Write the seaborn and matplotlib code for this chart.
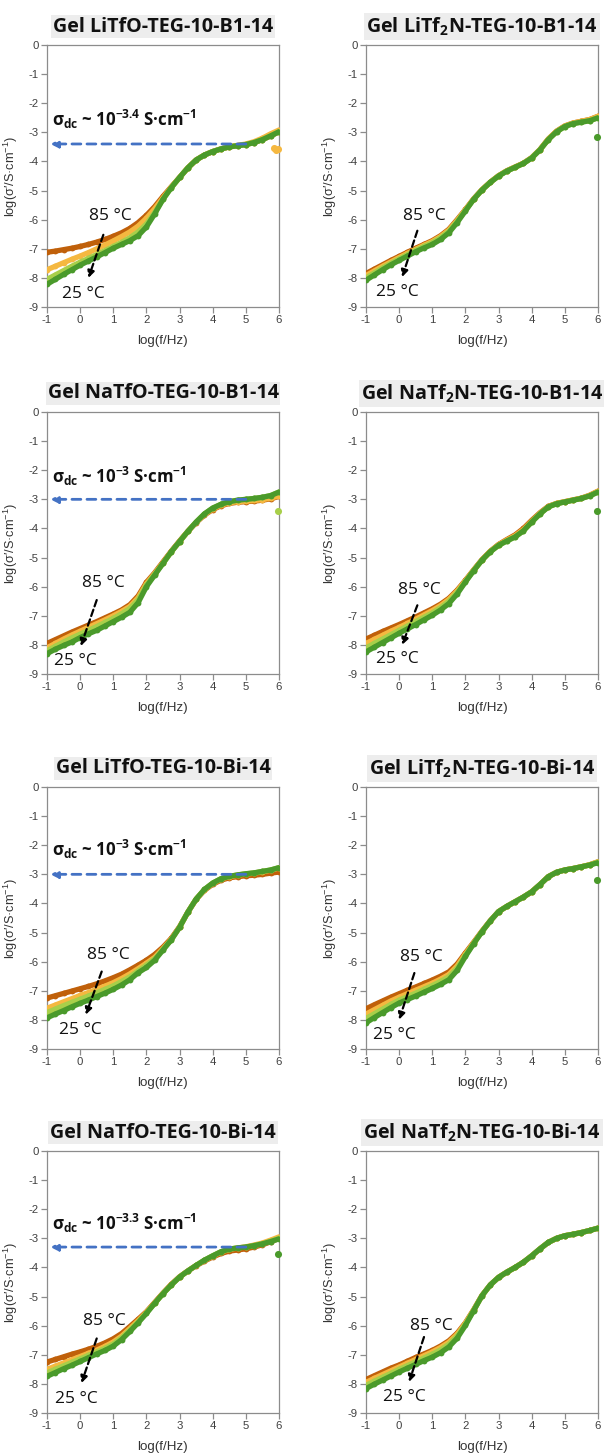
import matplotlib
matplotlib.use("Agg")
import matplotlib.pyplot as plt
import seaborn as sns
import pandas as pd

# ---------------- data ----------------
X_GRID = [-1.0, -0.75, -0.5, -0.25, 0.0, 0.25, 0.5, 0.75, 1.0, 1.25, 1.5, 1.75, 2.0, 2.25,
          2.5, 2.75, 3.0, 3.25, 3.5, 3.75, 4.0, 4.25, 4.5, 4.75, 5.0, 5.25, 5.5, 5.75, 6.0]
TEMPS = ["85 °C", "65 °C", "45 °C", "25 °C"]
COLORS = ["#C0600A", "#F5B840", "#A8CF4A", "#4A9A2B"]

TITLES = ["Gel LiTfO-TEG-10-B1-14", "Gel LiTf$_2$N-TEG-10-B1-14",
          "Gel NaTfO-TEG-10-B1-14", "Gel NaTf$_2$N-TEG-10-B1-14",
          "Gel LiTfO-TEG-10-Bi-14", "Gel LiTf$_2$N-TEG-10-Bi-14",
          "Gel NaTfO-TEG-10-Bi-14", "Gel NaTf$_2$N-TEG-10-Bi-14"]

# panel 1: LiTfO-B1
P1_85 = [-7.12, -7.08, -7.03, -6.98, -6.92, -6.85, -6.77, -6.68, -6.57, -6.45, -6.30, -6.10, -5.85, -5.55,
         -5.20, -4.87, -4.55, -4.22, -3.95, -3.78, -3.66, -3.57, -3.50, -3.46, -3.42, -3.35, -3.25, -3.12, -2.98]
P1_65 = [-7.72, -7.60, -7.48, -7.36, -7.25, -7.13, -7.00, -6.87, -6.73, -6.58, -6.42, -6.22, -5.95, -5.62,
         -5.25, -4.88, -4.55, -4.22, -3.95, -3.78, -3.66, -3.57, -3.50, -3.45, -3.40, -3.32, -3.20, -3.05, -2.92]
P1_45 = [-8.05, -7.90, -7.75, -7.60, -7.46, -7.33, -7.20, -7.06, -6.92, -6.78, -6.62, -6.42, -6.15, -5.75,
         -5.30, -4.90, -4.55, -4.22, -3.95, -3.78, -3.66, -3.57, -3.50, -3.46, -3.42, -3.35, -3.25, -3.12, -2.98]
P1_25 = [-8.22, -8.05, -7.88, -7.72, -7.56, -7.42, -7.28, -7.13, -6.98, -6.85, -6.72, -6.55, -6.25, -5.80,
         -5.30, -4.90, -4.55, -4.22, -3.95, -3.78, -3.66, -3.57, -3.50, -3.46, -3.42, -3.35, -3.25, -3.12, -2.98]

# panel 2: LiTf2N-B1
P2_85 = [-7.85, -7.70, -7.55, -7.40, -7.26, -7.12, -6.98, -6.85, -6.72, -6.55, -6.33, -6.00, -5.65, -5.28,
         -4.97, -4.71, -4.49, -4.32, -4.19, -4.06, -3.87, -3.59, -3.23, -2.96, -2.78, -2.68, -2.62, -2.56, -2.45]
P2_65 = [-7.92, -7.76, -7.60, -7.45, -7.30, -7.16, -7.02, -6.88, -6.75, -6.58, -6.36, -6.03, -5.66, -5.29,
         -4.97, -4.71, -4.49, -4.32, -4.19, -4.06, -3.87, -3.59, -3.23, -2.96, -2.78, -2.68, -2.62, -2.56, -2.45]
P2_45 = [-8.00, -7.83, -7.66, -7.50, -7.35, -7.20, -7.05, -6.92, -6.79, -6.62, -6.40, -6.06, -5.68, -5.30,
         -4.98, -4.72, -4.50, -4.33, -4.20, -4.07, -3.88, -3.60, -3.25, -2.98, -2.80, -2.70, -2.65, -2.60, -2.50]
P2_25 = [-8.08, -7.90, -7.72, -7.55, -7.40, -7.25, -7.10, -6.97, -6.85, -6.68, -6.45, -6.10, -5.70, -5.30,
         -4.98, -4.72, -4.50, -4.33, -4.20, -4.07, -3.88, -3.60, -3.25, -2.98, -2.80, -2.70, -2.65, -2.60, -2.50]

# panel 3: NaTfO-B1
P3_85 = [-7.95, -7.82, -7.69, -7.56, -7.44, -7.32, -7.20, -7.07, -6.94, -6.80, -6.62, -6.32, -5.85, -5.52,
         -5.15, -4.78, -4.43, -4.10, -3.80, -3.54, -3.35, -3.22, -3.14, -3.10, -3.08, -3.06, -3.03, -2.98, -2.90]
P3_65 = [-8.10, -7.95, -7.80, -7.66, -7.53, -7.40, -7.27, -7.14, -7.00, -6.85, -6.68, -6.38, -5.90, -5.55,
         -5.18, -4.80, -4.45, -4.10, -3.79, -3.52, -3.33, -3.20, -3.12, -3.08, -3.06, -3.04, -3.01, -2.96, -2.88]
P3_45 = [-8.20, -8.05, -7.90, -7.76, -7.63, -7.50, -7.37, -7.23, -7.09, -6.93, -6.75, -6.45, -5.95, -5.57,
         -5.20, -4.80, -4.45, -4.10, -3.78, -3.50, -3.30, -3.17, -3.08, -3.03, -3.00, -2.97, -2.93, -2.87, -2.75]
P3_25 = [-8.30, -8.15, -8.02, -7.90, -7.75, -7.62, -7.50, -7.35, -7.20, -7.05, -6.88, -6.55, -6.00, -5.60,
         -5.20, -4.80, -4.45, -4.10, -3.78, -3.50, -3.30, -3.17, -3.08, -3.03, -3.00, -2.97, -2.93, -2.87, -2.75]

# panel 4: NaTf2N-B1
P4_85 = [-7.80, -7.67, -7.54, -7.42, -7.30, -7.17, -7.04, -6.90, -6.76, -6.60, -6.40, -6.12, -5.78, -5.42,
         -5.07, -4.78, -4.55, -4.38, -4.22, -4.00, -3.72, -3.46, -3.24, -3.14, -3.08, -3.02, -2.96, -2.86, -2.72]
P4_65 = [-7.95, -7.81, -7.67, -7.53, -7.40, -7.26, -7.12, -6.97, -6.82, -6.65, -6.44, -6.15, -5.80, -5.43,
         -5.08, -4.79, -4.56, -4.40, -4.25, -4.04, -3.75, -3.48, -3.25, -3.14, -3.08, -3.02, -2.96, -2.86, -2.72]
P4_45 = [-8.10, -7.95, -7.80, -7.65, -7.50, -7.35, -7.20, -7.05, -6.90, -6.72, -6.50, -6.20, -5.82, -5.44,
         -5.09, -4.80, -4.58, -4.43, -4.29, -4.08, -3.78, -3.50, -3.26, -3.15, -3.09, -3.03, -2.97, -2.88, -2.75]
P4_25 = [-8.24, -8.08, -7.92, -7.76, -7.60, -7.45, -7.30, -7.14, -6.98, -6.80, -6.58, -6.25, -5.84, -5.45,
         -5.09, -4.80, -4.58, -4.43, -4.29, -4.08, -3.78, -3.50, -3.26, -3.15, -3.09, -3.03, -2.97, -2.88, -2.75]

# panel 5: LiTfO-Bi
P5_85 = [-7.25, -7.17, -7.09, -7.01, -6.93, -6.85, -6.76, -6.66, -6.55, -6.43, -6.28, -6.12, -5.95, -5.75,
         -5.50, -5.20, -4.80, -4.30, -3.86, -3.55, -3.34, -3.20, -3.12, -3.08, -3.05, -3.03, -3.00, -2.96, -2.92]
P5_65 = [-7.60, -7.49, -7.38, -7.27, -7.16, -7.06, -6.95, -6.84, -6.72, -6.58, -6.42, -6.24, -6.05, -5.85,
         -5.55, -5.23, -4.81, -4.30, -3.85, -3.53, -3.31, -3.16, -3.08, -3.03, -2.99, -2.96, -2.91, -2.86, -2.78]
P5_45 = [-7.75, -7.63, -7.51, -7.40, -7.29, -7.18, -7.07, -6.95, -6.83, -6.68, -6.52, -6.32, -6.12, -5.90,
         -5.58, -5.25, -4.82, -4.30, -3.85, -3.52, -3.30, -3.15, -3.07, -3.02, -2.98, -2.95, -2.90, -2.85, -2.77]
P5_25 = [-7.93, -7.80, -7.68, -7.55, -7.43, -7.32, -7.20, -7.08, -6.95, -6.80, -6.62, -6.38, -6.20, -5.95,
         -5.60, -5.25, -4.82, -4.30, -3.85, -3.52, -3.30, -3.15, -3.07, -3.02, -2.98, -2.95, -2.90, -2.85, -2.77]

# panel 6: LiTf2N-Bi
P6_85 = [-7.62, -7.48, -7.35, -7.22, -7.10, -6.98, -6.87, -6.75, -6.63, -6.50, -6.35, -6.08, -5.70, -5.33,
         -4.95, -4.59, -4.28, -4.10, -3.94, -3.78, -3.60, -3.35, -3.08, -2.93, -2.85, -2.80, -2.74, -2.67, -2.57]
P6_65 = [-7.80, -7.65, -7.50, -7.35, -7.22, -7.10, -6.98, -6.86, -6.74, -6.60, -6.44, -6.15, -5.74, -5.35,
         -4.96, -4.60, -4.28, -4.10, -3.94, -3.78, -3.60, -3.35, -3.08, -2.93, -2.85, -2.80, -2.74, -2.67, -2.57]
P6_45 = [-7.95, -7.79, -7.63, -7.47, -7.32, -7.20, -7.08, -6.95, -6.82, -6.68, -6.52, -6.22, -5.78, -5.37,
         -4.97, -4.60, -4.28, -4.10, -3.94, -3.78, -3.60, -3.35, -3.08, -2.93, -2.85, -2.80, -2.74, -2.68, -2.58]
P6_25 = [-8.10, -7.92, -7.75, -7.58, -7.42, -7.30, -7.18, -7.05, -6.92, -6.78, -6.62, -6.30, -5.82, -5.38,
         -4.97, -4.60, -4.28, -4.10, -3.94, -3.78, -3.60, -3.35, -3.08, -2.93, -2.85, -2.80, -2.74, -2.68, -2.60]

# panel 7: NaTfO-Bi
P7_85 = [-7.25, -7.16, -7.07, -6.98, -6.90, -6.81, -6.71, -6.59, -6.45, -6.27, -6.03, -5.78, -5.52, -5.20,
         -4.88, -4.58, -4.32, -4.12, -3.94, -3.78, -3.64, -3.52, -3.44, -3.40, -3.36, -3.30, -3.22, -3.12, -3.00]
P7_65 = [-7.50, -7.39, -7.28, -7.17, -7.06, -6.95, -6.84, -6.71, -6.56, -6.36, -6.10, -5.83, -5.54, -5.22,
         -4.89, -4.59, -4.33, -4.12, -3.93, -3.76, -3.61, -3.47, -3.38, -3.33, -3.29, -3.23, -3.16, -3.06, -2.95]
P7_45 = [-7.62, -7.50, -7.38, -7.26, -7.14, -7.02, -6.90, -6.78, -6.63, -6.42, -6.15, -5.87, -5.56, -5.23,
         -4.90, -4.60, -4.33, -4.12, -3.93, -3.75, -3.60, -3.46, -3.37, -3.33, -3.30, -3.25, -3.19, -3.10, -3.00]
P7_25 = [-7.74, -7.61, -7.48, -7.36, -7.23, -7.10, -6.97, -6.85, -6.70, -6.48, -6.20, -5.90, -5.58, -5.23,
         -4.90, -4.60, -4.33, -4.12, -3.93, -3.75, -3.60, -3.46, -3.37, -3.33, -3.30, -3.25, -3.19, -3.11, -3.02]

# panel 8: NaTf2N-Bi
P8_85 = [-7.85, -7.72, -7.59, -7.46, -7.35, -7.22, -7.09, -6.97, -6.85, -6.70, -6.52, -6.26, -5.90, -5.45,
         -4.96, -4.60, -4.34, -4.16, -4.00, -3.82, -3.60, -3.36, -3.14, -3.00, -2.91, -2.86, -2.80, -2.73, -2.65]
P8_65 = [-7.95, -7.81, -7.68, -7.55, -7.42, -7.29, -7.16, -7.03, -6.90, -6.75, -6.57, -6.30, -5.92, -5.46,
         -4.97, -4.60, -4.34, -4.16, -4.00, -3.82, -3.60, -3.36, -3.14, -3.00, -2.91, -2.86, -2.80, -2.73, -2.65]
P8_45 = [-8.05, -7.91, -7.77, -7.64, -7.50, -7.37, -7.24, -7.11, -6.98, -6.83, -6.64, -6.36, -5.95, -5.47,
         -4.97, -4.60, -4.34, -4.16, -4.00, -3.82, -3.60, -3.36, -3.14, -3.00, -2.91, -2.86, -2.80, -2.73, -2.65]
P8_25 = [-8.16, -8.01, -7.87, -7.73, -7.59, -7.46, -7.33, -7.20, -7.08, -6.93, -6.73, -6.43, -5.99, -5.48,
         -4.97, -4.60, -4.34, -4.16, -4.00, -3.82, -3.60, -3.36, -3.14, -3.00, -2.91, -2.86, -2.80, -2.73, -2.65]

PANELS = [[P1_85, P1_65, P1_45, P1_25], [P2_85, P2_65, P2_45, P2_25],
          [P3_85, P3_65, P3_45, P3_25], [P4_85, P4_65, P4_45, P4_25],
          [P5_85, P5_65, P5_45, P5_25], [P6_85, P6_65, P6_45, P6_25],
          [P7_85, P7_65, P7_45, P7_25], [P8_85, P8_65, P8_45, P8_25]]

# stray high-frequency points at the end of some sweeps (x, y, series index)
STRAY_X = [[5.84, 5.92, 5.98], [5.98], [5.98], [5.98], [], [5.98], [5.98], []]
STRAY_Y = [[-3.55, -3.60, -3.56], [-3.15], [-3.40], [-3.40], [], [-3.20], [-3.55], []]
STRAY_C = [1, 3, 2, 3, 0, 3, 3, 0]

# dc conductivity annotation (log value) ; None = no annotation
SIGMA_DC = [-3.4, None, -3.0, None, -3.0, None, -3.3, None]
SIGMA_TXT = ["-3.4", None, "-3", None, "-3", None, "-3.3", None]
SIGMA_LABEL_Y = [-2.55, None, -2.2, None, -2.15, None, -2.5, None]

# temperature arrow (start x, start y, end x, end y) and label centres
ARROW_START = [(0.70, -6.52), (0.55, -6.38), (0.50, -6.46), (0.55, -6.64),
               (0.65, -6.34), (0.46, -6.39), (0.50, -6.44), (0.75, -6.39)]
ARROW_END = [(0.25, -8.00), (0.09, -7.97), (0.02, -8.04), (0.09, -8.00),
             (0.17, -7.82), (0.00, -7.99), (0.04, -7.97), (0.30, -7.93)]
HOT_POS = [(0.90, -5.87), (0.77, -5.86), (0.70, -5.89), (0.60, -6.12),
           (0.85, -5.76), (0.68, -5.84), (0.73, -5.83), (0.96, -6.02)]
COLD_POS = [(0.09, -8.55), (-0.06, -8.47), (-0.13, -8.55), (-0.04, -8.47),
            (0.02, -8.36), (-0.15, -8.53), (-0.11, -8.51), (0.17, -8.45)]

X_TICKS = [-1, 0, 1, 2, 3, 4, 5, 6]
Y_TICKS = [0, -1, -2, -3, -4, -5, -6, -7, -8, -9]

# ---------------- style ----------------
sns.set_style("ticks")
plt.rcParams["font.family"] = ["Liberation Sans", "DejaVu Sans"]
plt.rcParams["mathtext.default"] = "regular"
plt.rcParams["axes.unicode_minus"] = False

W, H = 604, 1454
fig = plt.figure(figsize=(W / 100, H / 100), dpi=100)

COL_LEFT = [47, 366]
ROW_TOP = [45, 412, 787, 1151]
AX_W, AX_H = 232, 262

for i in range(8):
    r, c = divmod(i, 2)
    l = COL_LEFT[c]
    t = ROW_TOP[r]
    ax = fig.add_axes([l / W, 1 - (t + AX_H) / H, AX_W / W, AX_H / H])

    rows = []
    for k, series in enumerate(PANELS[i]):
        for xv, yv in zip(X_GRID, series):
            rows.append({"x": xv, "y": yv, "T": TEMPS[k]})
    df = pd.DataFrame(rows)
    sns.lineplot(data=df, x="x", y="y", hue="T", hue_order=TEMPS, palette=COLORS,
                 estimator=None, sort=False, linewidth=3.8, marker="o", markersize=4.2,
                 markeredgewidth=0, legend=False, ax=ax, zorder=3)
    if STRAY_X[i]:
        sns.scatterplot(x=STRAY_X[i], y=STRAY_Y[i], color=COLORS[STRAY_C[i]], s=26,
                        linewidth=0, ax=ax, zorder=4, clip_on=False)

    ax.set_xlim(-1, 6)
    ax.set_ylim(-9, 0)
    ax.set_xticks(X_TICKS)
    ax.set_yticks(Y_TICKS)
    for sp in ax.spines.values():
        sp.set_visible(True)
        sp.set_color("#8C8C8C")
        sp.set_linewidth(0.9)
    ax.tick_params(direction="out", length=4, width=0.9, color="#8C8C8C",
                   labelsize=8.2, labelcolor="#404040", pad=2)
    ax.set_xlabel("log(f/Hz)", fontsize=9.6, color="#333333")
    ax.set_ylabel("log(σ′/S·cm$^{-1}$)", fontsize=9.2, color="#333333")
    ax.xaxis.set_label_coords(0.5, -28 / AX_H)
    ax.yaxis.set_label_coords(-27 / AX_W, 0.5)

    # title with grey box
    ax.text(0.5, 1 + 18.5 / AX_H, TITLES[i], transform=ax.transAxes, ha="center", va="center",
            fontsize=14.2, fontweight="bold", family=["Open Sans", "DejaVu Sans"], color="#111111",
            bbox=dict(facecolor="#EDEDED", edgecolor="none", boxstyle="square,pad=0.1"),
            clip_on=False)

    # sigma dc annotation
    if SIGMA_DC[i] is not None:
        ax.annotate("", xy=(-0.9, SIGMA_DC[i]), xytext=(5.0, SIGMA_DC[i]),
                    arrowprops=dict(arrowstyle="-|>", color="#4472C4", lw=2.0,
                                    linestyle=(0, (3.2, 2.2)), mutation_scale=11,
                                    shrinkA=0, shrinkB=0), zorder=5)
        ax.text(-0.85, SIGMA_LABEL_Y[i],
                "σ$_{dc}$ ~ 10$^{" + SIGMA_TXT[i] + "}$ S·cm$^{-1}$",
                ha="left", va="center", fontsize=12.2, fontweight="bold",
                family=["Open Sans", "DejaVu Sans"], color="#111111", zorder=6)

    # temperature arrow
    ax.annotate("", xy=ARROW_END[i], xytext=ARROW_START[i],
                arrowprops=dict(arrowstyle="-|>", color="black", lw=1.6,
                                linestyle=(0, (3.0, 1.6)), mutation_scale=10,
                                shrinkA=0, shrinkB=0), zorder=6)
    ax.text(*HOT_POS[i], "85 °C", ha="center", va="center", fontsize=12.5,
            family=["Open Sans", "DejaVu Sans"], color="#111111", zorder=6)
    ax.text(*COLD_POS[i], "25 °C", ha="center", va="center", fontsize=12.5,
            family=["Open Sans", "DejaVu Sans"], color="#111111", zorder=6)

fig.savefig("out.png", dpi=100, facecolor="white")
